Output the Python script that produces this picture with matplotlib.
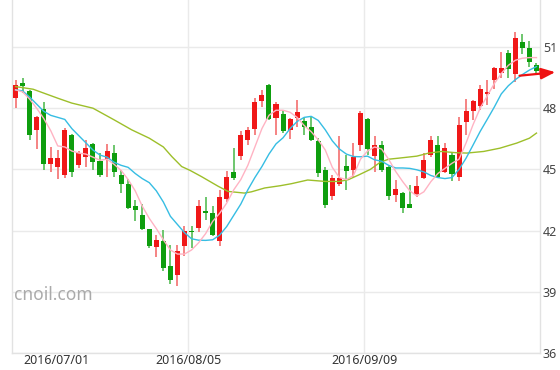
import matplotlib
matplotlib.use("Agg")
import matplotlib.pyplot as plt
from matplotlib.patches import FancyArrowPatch

# ---- data (75 daily candles) ----
opens = [48.49, 49.22, 48.85, 46.91, 47.97, 45.28, 45.14, 44.74, 46.69, 45.23,
         45.60, 46.25, 45.39, 45.51, 45.80, 44.74, 44.30, 43.22, 42.78, 42.08,
         41.20, 41.51, 40.25, 39.80, 41.23, 42.00, 42.13, 42.98, 42.86, 41.47,
         43.55, 44.85, 45.67, 46.45, 46.97, 48.37, 49.14, 47.51, 47.72, 46.91,
         47.51, 47.35, 47.10, 46.37, 44.98, 43.68, 44.30, 45.18, 44.95, 46.21,
         47.46, 45.67, 46.21, 45.14, 43.76, 43.84, 43.32, 43.81, 44.58, 45.72,
         46.21, 44.85, 45.72, 44.65, 47.32, 47.87, 48.13, 48.70, 49.39, 49.74,
         50.69, 49.66, 51.23, 50.97, 50.12]
highs = [49.39, 49.47, 48.90, 47.60, 48.32, 46.09, 45.96, 47.02, 46.75, 45.88,
         46.42, 46.30, 45.80, 46.25, 46.21, 44.98, 44.53, 43.51, 43.32, 42.10,
         41.80, 42.01, 41.31, 41.31, 42.21, 42.24, 43.48, 43.65, 43.22, 43.97,
         44.90, 46.04, 46.86, 47.10, 48.49, 48.90, 49.19, 48.32, 47.92, 47.51,
         48.41, 47.51, 47.62, 46.53, 45.14, 44.74, 46.65, 45.72, 46.29, 47.88,
         47.50, 46.65, 46.37, 45.23, 44.46, 43.90, 44.25, 44.69, 45.80, 46.65,
         46.65, 46.29, 45.83, 47.59, 48.46, 48.41, 49.14, 49.39, 50.04, 50.77,
         50.85, 51.72, 51.62, 51.29, 50.20]
lows = [48.00, 48.76, 46.45, 46.01, 44.98, 44.87, 44.53, 44.58, 44.65, 45.07,
        45.14, 44.95, 44.63, 44.65, 44.65, 43.84, 43.06, 42.45, 42.05, 41.15,
        40.71, 40.01, 39.36, 39.27, 40.77, 41.15, 41.92, 42.54, 41.72, 41.23,
        43.38, 44.46, 45.44, 46.21, 46.69, 48.08, 47.43, 46.69, 46.78, 46.48,
        47.07, 46.69, 46.37, 44.63, 43.11, 43.52, 44.20, 43.97, 44.63, 45.88,
        45.72, 44.85, 44.85, 43.52, 43.38, 42.86, 43.10, 43.65, 44.53, 45.63,
        44.58, 44.82, 44.41, 44.44, 46.69, 47.43, 47.92, 48.16, 48.95, 49.47,
        49.47, 49.27, 50.64, 50.04, 49.71]
closes = [49.14, 49.09, 46.69, 47.56, 45.28, 45.55, 45.55, 46.94, 44.85, 45.80,
          46.07, 45.34, 44.74, 45.88, 44.85, 44.30, 43.11, 43.03, 42.08, 41.23,
          41.52, 40.17, 39.60, 40.99, 41.96, 41.92, 43.19, 42.86, 41.80, 43.65,
          44.63, 44.58, 46.69, 46.91, 48.32, 48.65, 47.46, 48.21, 46.86, 47.46,
          47.79, 47.07, 46.45, 44.82, 43.27, 44.58, 44.58, 44.90, 45.63, 47.76,
          45.99, 46.21, 44.98, 43.68, 44.04, 43.11, 43.11, 44.20, 45.47, 46.45,
          44.63, 46.04, 44.79, 47.18, 47.87, 48.36, 48.95, 48.81, 49.99, 49.99,
          49.92, 51.45, 50.94, 50.25, 49.83]

# moving-average lines
ma_pink = [48.90, 48.80, 48.45, 48.00, 47.50, 46.90, 46.15, 46.10, 45.90, 45.80,
           45.75, 45.60, 45.45, 45.50, 45.25, 44.95, 44.50, 43.95, 43.20, 42.60,
           42.10, 41.55, 41.05, 40.85, 40.85, 41.05, 41.40, 41.85, 42.45, 42.85,
           43.35, 44.00, 44.50, 45.20, 46.10, 47.00, 47.65, 47.90, 47.90, 47.80,
           47.55, 47.15, 46.85, 46.45, 45.95, 45.10, 44.60, 44.50, 44.70, 45.50,
           45.90, 46.10, 46.00, 45.50, 44.90, 44.40, 43.95, 43.70, 43.90, 44.40,
           44.80, 45.05, 45.30, 45.50, 46.30, 47.20, 48.00, 48.60, 49.20, 49.70,
           50.10, 50.35, 50.45, 50.48, 50.48]
ma_cyan = [48.90, 48.85, 48.55, 48.20, 47.85, 47.65, 47.55, 47.45, 47.00, 46.65,
           46.30, 45.95, 45.70, 45.60, 45.35, 45.20, 45.10, 44.80, 44.55, 44.35,
           43.95, 43.40, 42.70, 42.30, 41.90, 41.60, 41.53, 41.52, 41.55, 41.78,
           42.20, 42.75, 43.30, 44.00, 44.60, 45.14, 45.75, 46.25, 46.55, 47.00,
           47.35, 47.55, 47.60, 47.40, 46.94, 46.40, 46.00, 45.75, 45.63, 45.62,
           45.65, 45.47, 45.40, 45.20, 45.07, 45.07, 45.05, 44.98, 44.88, 44.70,
           44.60, 44.55, 44.60, 45.00, 45.55, 46.20, 46.86, 47.45, 48.05, 48.70,
           49.10, 49.40, 49.65, 49.87, 50.04]
ma_olive_x = [0, 2.5, 6, 8, 11, 14, 16.5, 19, 21, 22.2, 23.6, 24.8, 26.4, 28.8,
              30.2, 32.5, 33.5, 35.4, 37.6, 39.2, 41.5, 44, 46, 47.3, 48.7,
              50.4, 51.8, 53, 54.4, 57, 58.7, 60.5, 62.5, 64.1, 66.5, 68.8,
              71.2, 73, 74]
ma_olive_y = [49.06, 48.93, 48.49, 48.25, 48.00, 47.43, 46.94, 46.53, 46.10,
              45.63, 45.14, 44.95, 44.65, 44.17, 43.92, 43.84, 43.90, 44.09,
              44.20, 44.30, 44.48, 44.41, 44.41, 44.50, 44.72, 45.00, 45.35,
              45.50, 45.55, 45.65, 45.80, 45.88, 45.82, 45.80, 45.88, 46.04,
              46.29, 46.53, 46.78]

date_ticks = [24.5, 49.5]
date_labels = ["2016/08/05", "2016/09/09"]
first_date_label = "2016/07/01"
y_ticks = [36, 39, 42, 45, 48, 51]

# last-price arrow (start, end) in data units
arrow_start = (71.2, 49.58)
arrow_end = (77.06, 49.78)

# ---- drawing ----
plt.rcParams['font.family'] = ['Noto Sans', 'DejaVu Sans']
fig = plt.figure(figsize=(5.6, 3.7), dpi=100)
ax = fig.add_axes([12 / 560, 17 / 370, 528 / 560, 353 / 370])

UP, DOWN = "#f01818", "#0e9e0e"
UP_W, DOWN_W = "#f47a7a", "#62c262"

n = len(opens)
xs = list(range(n))
for i in xs:
    o, h, l, c = opens[i], highs[i], lows[i], closes[i]
    up = c >= o
    ax.vlines(i, l, h, color=UP_W if up else DOWN_W, lw=1.3, zorder=2)
    bot = min(o, c)
    ht = max(abs(c - o), 0.07)
    ax.bar(i, ht, bottom=bot, width=0.72, color=UP if up else DOWN,
           linewidth=0, zorder=3)

ax.plot(ma_olive_x, ma_olive_y, color="#9dbf2a", lw=1.0, zorder=4)
ax.plot(xs, ma_cyan, color="#36bde3", lw=1.0, zorder=4)
ax.plot(xs, ma_pink, color="#ffb3c3", lw=1.0, zorder=4)

ax.set_xlim(-0.5, n - 0.5)
ax.set_ylim(36, 36 + 353 / 20.4)

ax.set_yticks(y_ticks)
ax.yaxis.tick_right()
ax.tick_params(axis='y', length=0, pad=2, labelsize=9, labelcolor="#444444")
ax.set_xticks(date_ticks)
ax.set_xticklabels(date_labels)
ax.tick_params(axis='x', length=0, pad=1.0, labelsize=9, labelcolor="#333333")
ax.text(5.75, 36 - 0.05, first_date_label, ha='center', va='top', fontsize=9,
        color="#333333")

ax.grid(True, color="#eaeaea", lw=1.0, zorder=0)
ax.set_axisbelow(True)
for side in ("left", "right", "bottom"):
    ax.spines[side].set_color("#e2e2e2")
    ax.spines[side].set_linewidth(1.0)
ax.spines["top"].set_visible(False)

ax.text(0.004, 0.165, "cnoil.com", transform=ax.transAxes, fontsize=12.5,
        color="#aaaaaa", ha='left', va='center')

arr = FancyArrowPatch(arrow_start, arrow_end,
                      arrowstyle="-|>,head_length=0.7,head_width=0.28",
                      mutation_scale=12, color="#ee1111", lw=1.6,
                      clip_on=False, zorder=6)
ax.add_patch(arr)

fig.savefig("out.png", dpi=100)
